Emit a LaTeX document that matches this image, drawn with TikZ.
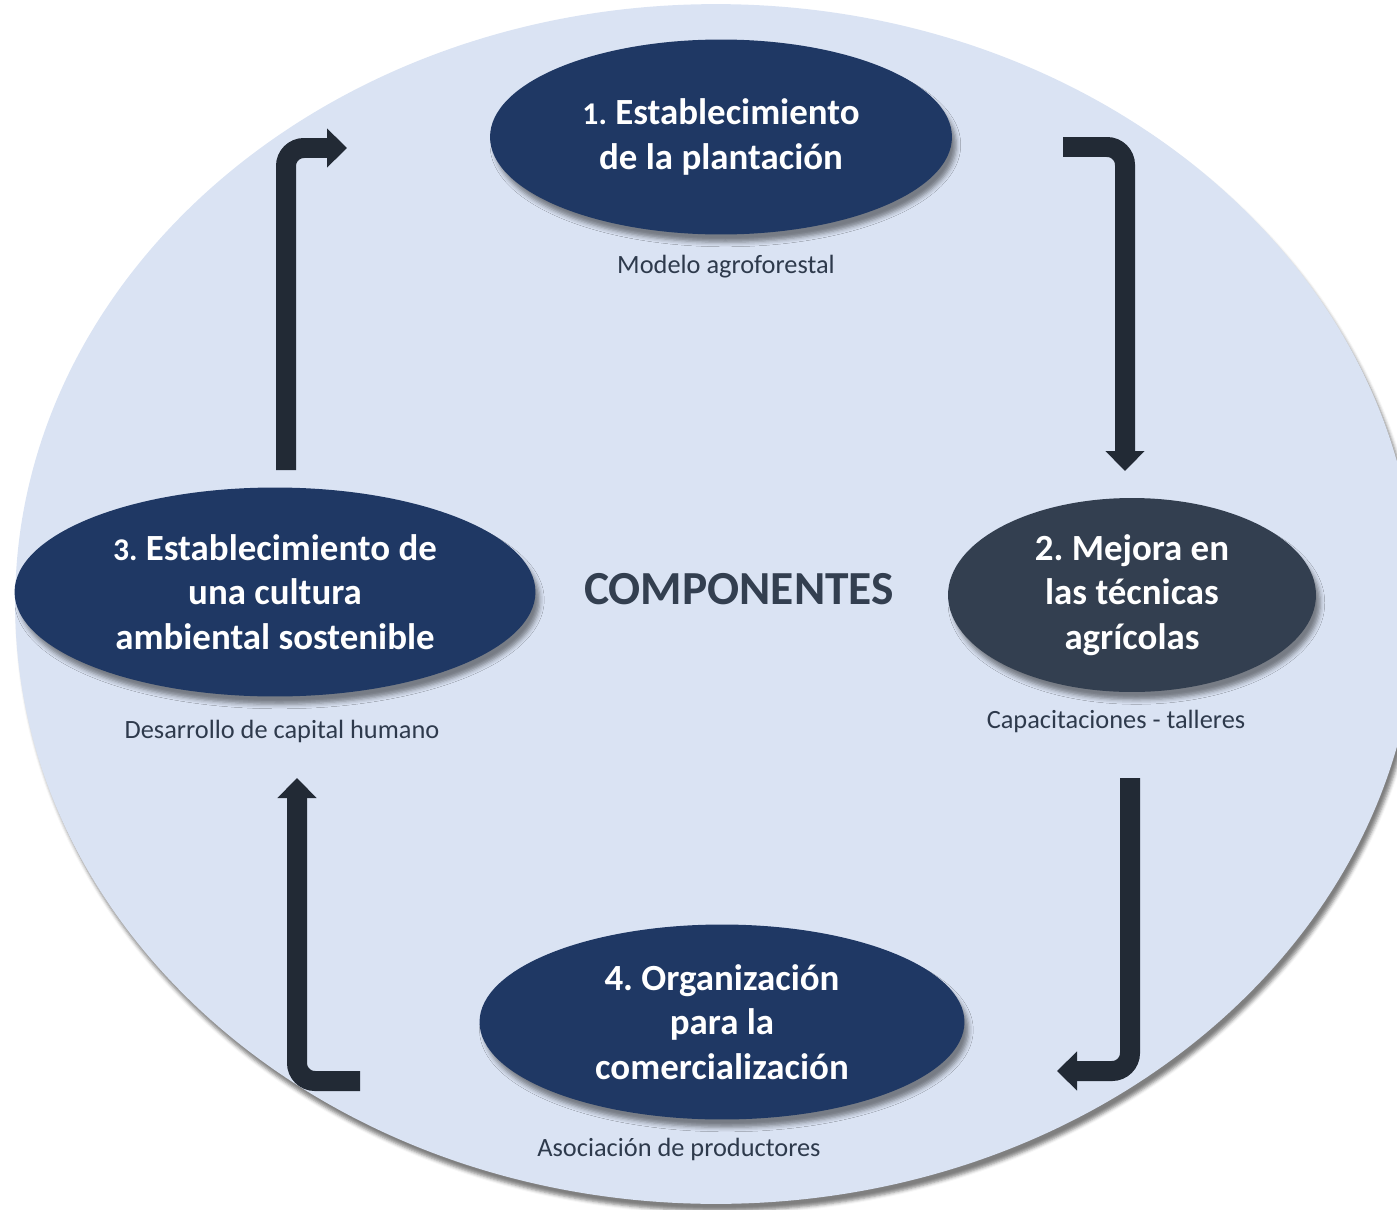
\documentclass[tikz,border=0pt]{standalone}
\usepackage{fontspec}
\setmainfont{Carlito}
\usepackage{xcolor}
\usepackage{tikz}
\usetikzlibrary{arrows.meta,positioning,shapes.geometric,shadows.blur}
\frenchspacing

\definecolor{bgblue}{HTML}{DAE3F3}
\definecolor{navy}{HTML}{1F3864}
\definecolor{slate}{HTML}{333F50}
\definecolor{arrowdark}{HTML}{222A35}
\definecolor{subtext}{HTML}{2E3A4C}

\tikzset{
    comp/.style={ellipse, fill=navy, text=white, inner sep=0pt, align=center,
        font=\bfseries\fontsize{21}{25.5}\selectfont,
        blur shadow={shadow xshift=2.5pt, shadow yshift=-4.5pt, shadow opacity=45, shadow blur radius=2.5pt}},
    sub/.style={text=subtext, font=\fontsize{15}{18}\selectfont},
    bent/.style={line width=0.4cm, draw=arrowdark, rounded corners=0.36cm,
        -{Triangle[length=0.4cm, width=0.76cm]}},
}
\newcommand{\smallnum}[1]{{\fontsize{18}{25.5}\selectfont #1}}

\begin{document}
\begin{tikzpicture}[x=0.02cm, y=-0.02cm]
    \clip (0,0) rectangle (1397,1210);

    % Background disc
    \node[ellipse, minimum width=28.04cm, minimum height=24cm, fill=bgblue,
        blur shadow={shadow xshift=2pt, shadow yshift=-4pt, shadow opacity=50, shadow blur radius=2pt}]
        (disc) at (716,604) {};

    % Components
    \node[comp, minimum width=9.24cm, minimum height=3.9cm] (e1) at (721,137)
        {\smallnum{1.} Establecimiento\\de la plantación};
    \node[comp, fill=slate, minimum width=7.36cm, minimum height=3.88cm] (e2) at (1132,595)
        {2. Mejora en\\las técnicas\\agrícolas};
    \node[comp, minimum width=10.42cm, minimum height=4.18cm] (e3) at (275,592)
        {\smallnum{3.} Establecimiento de\\una cultura\\ambiental sostenible};
    \node[comp, minimum width=9.7cm, minimum height=3.9cm] (e4) at (722,1022)
        {4. Organización\\para la\\comercialización};

    % Sub labels
    \node[sub] (s1) at (726,267) {Modelo agroforestal};
    \node[sub] (s2) at (1116,721) {Capacitaciones - talleres};
    \node[sub] (s3) at (282,731) {Desarrollo de capital humano};
    \node[sub] (s4) at (679,1149) {Asociación de productores};

    % Centre title
    \node[font=\bfseries\fontsize{27}{32}\selectfont, text=slate] (title) at (739,589) {COMPONENTES};

    % Arrow ends
    \coordinate (a1s) at (286,470);
    \coordinate (a1e) at (347,148);
    \coordinate (a2s) at (1063,147);
    \coordinate (a2e) at (1125,471);
    \coordinate (a3s) at (1130,778);
    \coordinate (a3e) at (1057,1071);
    \coordinate (a4s) at (360,1081);
    \coordinate (a4e) at (297,778);

    % Cycle arrows
    \draw[bent] (a1s) |- (a1e);
    \draw[bent] (a2s) -| (a2e);
    \draw[bent] (a3s) |- (a3e);
    \draw[bent] (a4s) -| (a4e);
\end{tikzpicture}
\end{document}
